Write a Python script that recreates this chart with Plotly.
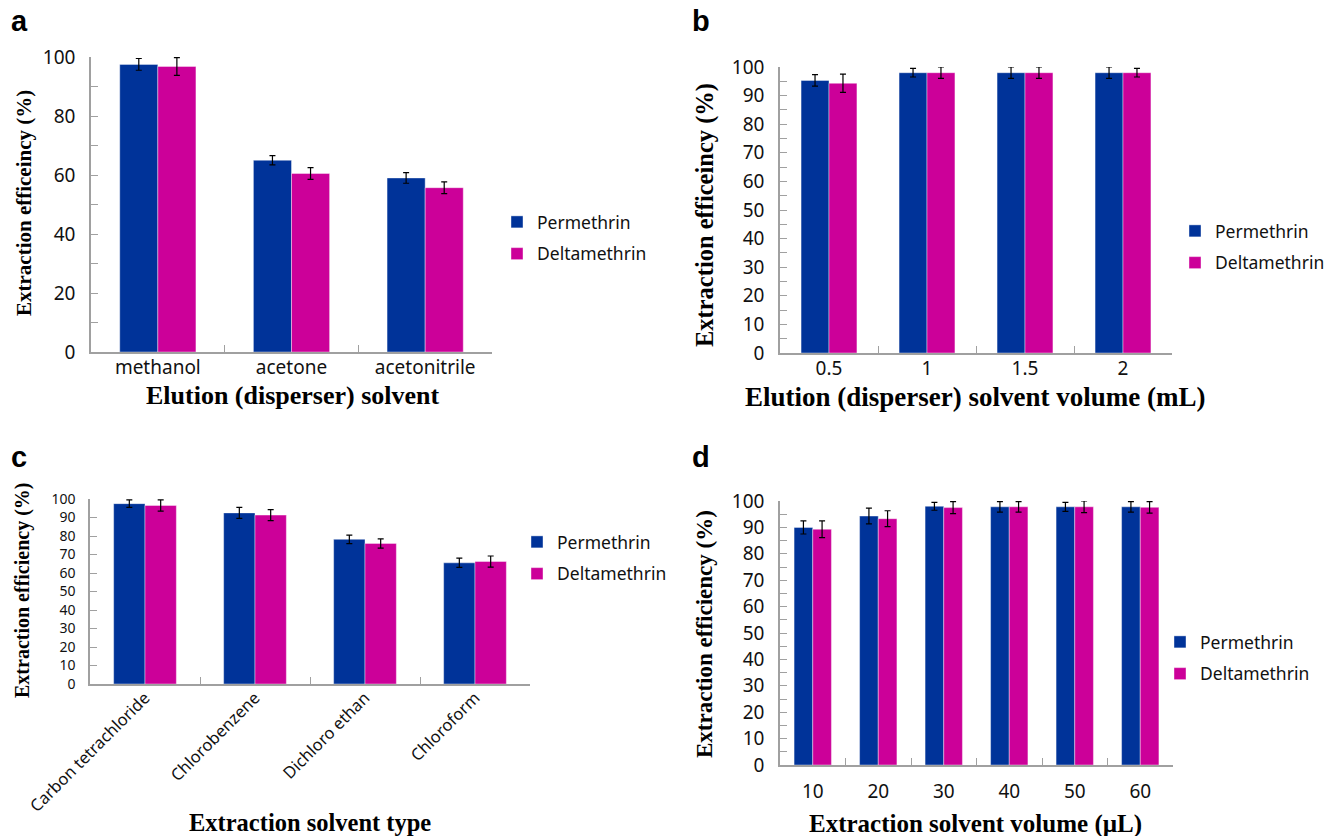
import plotly.graph_objects as go

W, H = 1341, 836
BLUE = "#003399"
MAG = "#CC0099"

# Panel a
a_cats = ["methanol", "acetone", "acetonitrile"]
a_perm = [97.5, 65.0, 59.0]
a_perm_err = [2.0, 1.6, 1.8]
a_delt = [96.8, 60.5, 55.7]
a_delt_err = [3.0, 2.0, 2.0]

# Panel b
b_cats = ["0.5", "1", "1.5", "2"]
b_perm = [95.3, 98.0, 98.0, 98.0]
b_perm_err = [2.0, 1.5, 2.0, 2.0]
b_delt = [94.3, 98.0, 98.0, 98.0]
b_delt_err = [3.2, 2.0, 2.0, 1.5]

# Panel c
c_cats = ["Carbon tetrachloride", "Chlorobenzene", "Dichloro ethan", "Chloroform"]
c_perm = [97.5, 92.5, 78.2, 65.5]
c_perm_err = [2.0, 3.0, 2.3, 2.5]
c_delt = [96.5, 91.3, 76.0, 66.2]
c_delt_err = [3.0, 3.0, 2.5, 3.0]

# Panel d
d_cats = ["10", "20", "30", "40", "50", "60"]
d_perm = [90.0, 94.3, 98.0, 97.8, 97.8, 97.8]
d_perm_err = [2.5, 3.0, 1.5, 2.0, 1.7, 2.0]
d_delt = [89.3, 93.3, 97.5, 97.8, 97.8, 97.6]
d_delt_err = [3.2, 3.0, 2.3, 2.0, 2.2, 2.2]

series_names = ["Permethrin", "Deltamethrin"]

def px(x):
    return x / W

def py(y):
    return 1 - y / H

fig = go.Figure()

panels = [
    dict(k="", cats=a_cats, p=a_perm, pe=a_perm_err, d=a_delt, de=a_delt_err,
         x0=91, x1=492, ytop=57, ybot=352, dtick=20, minor=10, leg="legend", xso=-3, yfs=19),
    dict(k="2", cats=b_cats, p=b_perm, pe=b_perm_err, d=b_delt, de=b_delt_err,
         x0=780, x1=1172, ytop=67, ybot=353, dtick=10, minor=5, leg="legend2", xso=-3, yfs=19),
    dict(k="3", cats=c_cats, p=c_perm, pe=c_perm_err, d=c_delt, de=c_delt_err,
         x0=90, x1=530, ytop=499, ybot=684, dtick=10, minor=None, leg="legend3", xso=-4, yfs=14),
    dict(k="4", cats=d_cats, p=d_perm, pe=d_perm_err, d=d_delt, de=d_delt_err,
         x0=780, x1=1173, ytop=501, ybot=765, dtick=10, minor=5, leg="legend4", xso=8, yfs=19),
]

tickfont = dict(family="Noto Sans", size=19, color="#111")
axcol = "#a0a0a0"

for pn in panels:
    k = pn["k"]
    for name, vals, errs, col in [(series_names[0], pn["p"], pn["pe"], BLUE),
                                  (series_names[1], pn["d"], pn["de"], MAG)]:
        fig.add_trace(go.Bar(
            x=pn["cats"], y=vals, name=name,
            marker=dict(color=col, line=dict(color="rgba(255,255,255,0.5)", width=0.8)),
            error_y=dict(type="data", array=errs, color="black", thickness=1.2, width=3),
            xaxis="x" + k, yaxis="y" + k, legend=pn["leg"], showlegend=True,
            legendgroup=name + k,
        ))
    xa = dict(domain=[px(pn["x0"]), px(pn["x1"])], anchor="y" + k, type="category",
              showline=True, linecolor=axcol, linewidth=1.5, ticks="inside",
              tickson="boundaries", ticklen=7, tickcolor=axcol, tickfont=tickfont,
              showgrid=False, automargin=False, ticklabelstandoff=pn["xso"])
    if k == "3":
        xa["tickangle"] = -45
        xa["tickfont"] = dict(family="Noto Sans", size=16.5, color="#111")
    ya = dict(domain=[py(pn["ybot"]), py(pn["ytop"])], anchor="x" + k, range=[0, 100],
              dtick=pn["dtick"], showline=True, linecolor=axcol, linewidth=1.5,
              ticks="inside", ticklen=7, tickcolor=axcol,
              tickfont=dict(family="Noto Sans", size=pn["yfs"], color="#111"),
              showgrid=False, zeroline=False, automargin=False, ticklabelstandoff=10)
    if pn["minor"]:
        ya["minor"] = dict(dtick=pn["minor"], ticks="inside", ticklen=7, tickcolor=axcol)
    fig.layout["xaxis" + k] = xa
    fig.layout["yaxis" + k] = ya

legfont = dict(family="Noto Sans", size=17.5, color="#111")
leg_common = dict(font=legfont, bgcolor="rgba(0,0,0,0)", xanchor="left", yanchor="middle",
                  tracegroupgap=6)
fig.update_layout(
    legend=dict(x=px(497), y=py(238), **leg_common),
    legend2=dict(x=px(1175), y=py(247), **leg_common),
    legend3=dict(x=px(517), y=py(558), **leg_common),
    legend4=dict(x=px(1160), y=py(658), **leg_common),
)

ann = []
letter_font = dict(family="Liberation Sans", size=29, color="black")
for txt, x, y in [("<b>a</b>", 9, 21), ("<b>b</b>", 690, 21), ("<b>c</b>", 9, 457), ("<b>d</b>", 690, 457)]:
    ann.append(dict(text=txt, x=px(x), y=py(y), xref="paper", yref="paper",
                    xanchor="left", yanchor="middle", showarrow=False, font=letter_font))

for txt, x, y, s in [("<b>Elution (disperser) solvent</b>", 293, 396, 26),
                     ("<b>Elution (disperser) solvent volume (mL)</b>", 975, 397, 27),
                     ("<b>Extraction solvent type</b>", 310, 822, 24.5),
                     ("<b>Extraction solvent volume (µL)</b>", 975, 824, 25)]:
    ann.append(dict(text=txt, x=px(x), y=py(y), xref="paper", yref="paper",
                    xanchor="center", yanchor="middle", showarrow=False,
                    font=dict(family="Liberation Serif", size=s, color="black")))

for txt, x, y, s in [("<b>Extraction efficeincy (%)</b>", 24, 203, 21),
                     ("<b>Extraction efficeincy (%)</b>", 705, 215, 24.5),
                     ("<b>Extraction efficiency (%)</b>", 22, 591, 20),
                     ("<b>Extraction efficiency (%)</b>", 704, 634, 23)]:
    ann.append(dict(text=txt, x=px(x), y=py(y), xref="paper", yref="paper",
                    xanchor="center", yanchor="middle", showarrow=False,
                    font=dict(family="Liberation Serif", size=s, color="black"),
                    textangle=-90))

fig.update_layout(
    annotations=ann,
    width=W, height=H,
    margin=dict(l=0, r=0, t=0, b=0, autoexpand=False),
    paper_bgcolor="white", plot_bgcolor="white",
    barmode="group", bargap=0.43, bargroupgap=0,
)

fig.write_html("out.html", config={"displayModeBar": False},
               post_script="document.body.style.margin='0px';")
